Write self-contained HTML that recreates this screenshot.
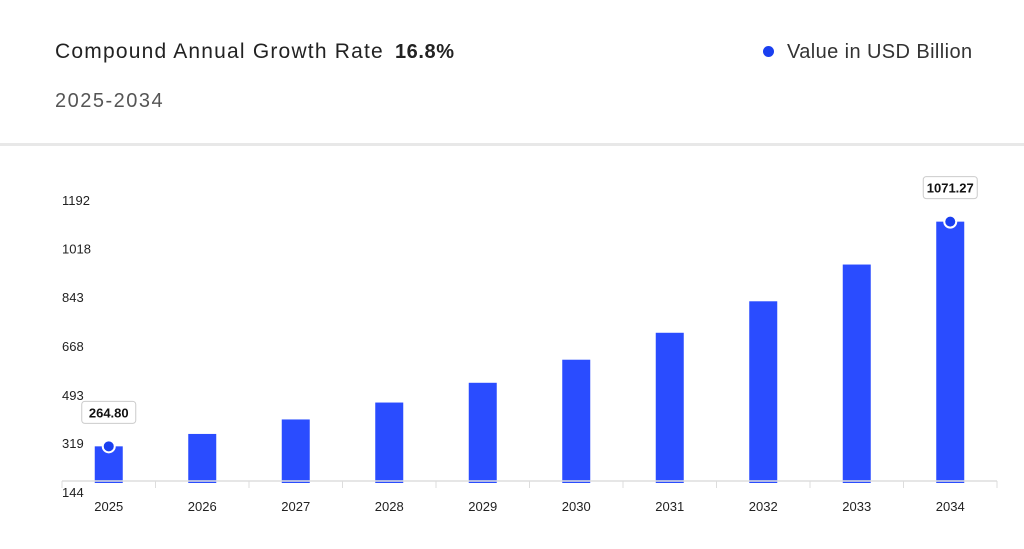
<!DOCTYPE html>
<html><head><meta charset="utf-8"><style>
body{margin:0;width:1024px;height:549px;background:#fff;font-family:"Liberation Sans",sans-serif;overflow:hidden;position:relative}
.t{position:absolute;white-space:nowrap}
</style></head><body>
<div class="t" style="left:55px;top:40px;font-size:21px;letter-spacing:1.2px;color:#222">Compound Annual Growth Rate <b style="margin-left:4px;font-size:20px;letter-spacing:0.6px">16.8%</b></div>
<div class="t" style="left:55px;top:90px;font-size:20px;letter-spacing:1.5px;color:#555">2025-2034</div>
<div class="t" style="left:763px;top:41px;font-size:20px;letter-spacing:0.4px;color:#333"><span style="display:inline-block;width:11px;height:11px;border-radius:50%;background:#1a3ff0;margin-right:13px;vertical-align:1px"></span>Value in USD Billion</div>
<div style="position:absolute;left:0;top:143px;width:1024px;height:3px;background:#e8e8e8"></div>
<svg id="c" width="1024" height="549" style="position:absolute;left:0;top:0" font-family="Liberation Sans, sans-serif"></svg>
<script>
const categories=["2025","2026","2027","2028","2029","2030","2031","2032","2033","2034"];
const values=[264.80,309.3,361.3,422.0,492.9,575.7,672.4,785.4,917.3,1071.27];
const yTicks=[144,319,493,668,843,1018,1192];
const yMin=144,yMax=1192;
const svg=document.getElementById('c');const NS='http://www.w3.org/2000/svg';
const x0=62,x1=997,yb=480,yt=188;
const band=(x1-x0)/categories.length;
const xS=i=>x0+band*(i+0.5);
const yS=v=>yb-(v-yMin)/(yMax-yMin)*(yb-yt);
function mk(t,a){const e=document.createElementNS(NS,t);for(const k in a)e.setAttribute(k,a[k]);svg.appendChild(e);return e;}
yTicks.forEach(v=>{const e=mk('text',{x:62,y:yS(v)+17,'font-size':13,fill:'#222'});e.textContent=v;

});
values.forEach((v,i)=>{const w=28;const r=mk('rect',{x:xS(i)-w/2,y:yS(v),width:w,height:yb+3-yS(v),fill:'#2a4cff'});

});
const ax=mk('line',{x1:x0,x2:x1,y1:yb+1,y2:yb+1,stroke:'#ddd','stroke-width':1.5});


for(let i=0;i<=categories.length;i++){const t=mk('line',{x1:x0+band*i,x2:x0+band*i,y1:yb+1,y2:yb+8,stroke:'#ddd'});

}
categories.forEach((c,i)=>{const e=mk('text',{x:xS(i),y:511,'font-size':13,fill:'#222','text-anchor':'middle'});e.textContent=c;

});
[0,values.length-1].forEach(i=>{const v=values[i],cx=xS(i),cy=yS(v);
const c=mk('circle',{cx:cx,cy:cy,r:6,fill:'#1a3ff0',stroke:'#fff','stroke-width':2});


const r=mk('rect',{x:cx-27,y:cy-45,width:54,height:22,rx:3,fill:'#fff',stroke:'#ccc'});


const t=mk('text',{x:cx,y:cy-29,'font-size':13,'font-weight':'bold','text-anchor':'middle',fill:'#111'});t.textContent=v.toFixed(2);

});
</script>
</body></html>
